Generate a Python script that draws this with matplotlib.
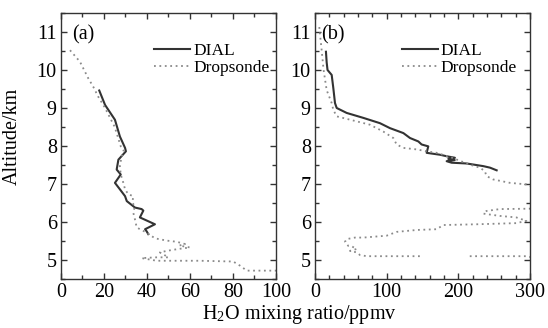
import numpy as np
import matplotlib.pyplot as plt
from matplotlib.ticker import MultipleLocator

plt.rcParams['font.family'] = ['Liberation Serif', 'DejaVu Serif']
plt.rcParams['mathtext.fontset'] = 'stix'

# (a) DIAL and dropsonde profiles
dial_a_x = [17.8, 20.5, 25.1, 27.4, 29.8, 30.2, 26.7, 25.9, 27.8, 25.1, 27.4, 29.8, 30.6,
            34.4, 37.5, 38.3, 36.7, 43.7, 39.1, 39.9, 40.6]
dial_a_y = [9.46, 9.08, 8.69, 8.25, 7.95, 7.86, 7.64, 7.38, 7.25, 7.03, 6.86, 6.68, 6.55,
            6.38, 6.34, 6.30, 6.12, 5.94, 5.81, 5.75, 5.68]
sonde_a_x = [4.2, 8.8, 12.7, 15.0, 17.3, 20.5, 25.0, 27.8, 29.3, 28.2, 27.4, 27.8, 29.0,
             29.8, 31.3, 33.6, 33.2, 34.4, 33.6, 34.4, 35.2, 36.7, 39.9, 43.7, 49.2,
             53.8, 57.7, 55.0, 60.0, 54.6, 49.2, 46.0, 47.5, 50.0, 44.5, 37.5, 44.5,
             64.5, 80.1, 83.3, 86.4, 95.7, 104.0]
sonde_a_y = [10.52, 10.22, 9.78, 9.56, 9.30, 9.00, 8.50, 7.99, 7.86, 7.73, 7.47, 7.25, 7.03,
             6.86, 6.73, 6.68, 6.50, 6.42, 6.25, 6.07, 5.86, 5.81, 5.72, 5.57, 5.51,
             5.48, 5.42, 5.38, 5.33, 5.29, 5.24, 5.20, 5.15, 5.07, 5.07, 5.05, 4.98,
             4.98, 4.96, 4.85, 4.72, 4.72, 4.72]

# (b) DIAL and dropsonde profiles
dial_b_x = [15.3, 16.3, 17.5, 23.3, 25.6, 27.9, 30.3, 44.2, 67.4, 90.7, 104.6, 123.3, 132.6,
            144.2, 148.8, 158.1, 155.8, 174.4, 183.7, 195.3, 186.0, 195.0, 183.7, 190.7,
            211.6, 234.9, 244.2, 253.5]
dial_b_y = [10.48, 10.20, 10.00, 9.87, 9.52, 9.13, 9.00, 8.87, 8.74, 8.60, 8.47, 8.34, 8.21,
            8.12, 8.04, 7.99, 7.82, 7.77, 7.73, 7.69, 7.66, 7.63, 7.60, 7.56,
            7.54, 7.47, 7.43, 7.36]
sonde_b_x = [6.0, 9.3, 12.0, 16.3, 23.3, 25.6, 30.3, 53.5, 76.7, 95.3, 109.3, 113.9, 123.3,
             141.9, 155.8, 169.8, 190.0, 216.0, 230.0, 237.0, 239.3, 248.6, 272.0, 295.0,
             330.0, 300.0, 258.0, 239.3, 234.9, 258.0, 281.0, 295.0, 281.0, 225.6, 179.0,
             169.8, 142.0, 114.0, 100.0, 67.4, 55.8, 44.2, 41.9, 46.5, 51.2, 58.2, 48.8,
             58.2, 62.8, 72.1, 148.8, np.nan, 216.0, 295.0, 310.0]
sonde_b_y = [11.13, 10.52, 10.0, 9.47, 9.13, 8.95, 8.78, 8.67, 8.56, 8.38, 8.21, 8.04, 7.95,
             7.91, 7.86, 7.82, 7.70, 7.51, 7.43, 7.34, 7.21, 7.12, 7.03, 6.99,
             6.70, 6.35, 6.34, 6.29, 6.22, 6.16, 6.12, 6.03, 5.97, 5.94, 5.92,
             5.81, 5.79, 5.74, 5.64, 5.59, 5.59, 5.55, 5.48, 5.37, 5.36, 5.29, 5.24,
             5.20, 5.13, 5.10, 5.10, np.nan, 5.10, 5.10, 5.04]

panels = [
    ('(a)', dial_a_x, dial_a_y, sonde_a_x, sonde_a_y, 100, 20, 10, 0.052, 0.985),
    ('(b)', dial_b_x, dial_b_y, sonde_b_x, sonde_b_y, 300, 100, 20, 0.030, 0.955),
]

fig = plt.figure(figsize=(5.48, 3.28), dpi=100)
lefts = [0.1113, 0.5748]

for left, (tag, dx, dy, sx, sy, xmax, major, minor, tag_x, leg_x) in zip(lefts, panels):
    ax = fig.add_axes([left, 0.1494, 0.3923, 0.811])
    ax.plot(dx, dy, color='#333333', lw=1.5, label='DIAL')
    ax.plot(sx, sy, color='#8a8a8a', lw=1.3, linestyle=(0, (1, 2)), label='Dropsonde')
    ax.set_xlim(0, xmax)
    ax.set_ylim(4.5, 11.5)
    ax.xaxis.set_major_locator(MultipleLocator(major))
    ax.xaxis.set_minor_locator(MultipleLocator(minor))
    ax.yaxis.set_major_locator(MultipleLocator(1))
    ax.yaxis.set_minor_locator(MultipleLocator(0.5))
    ax.tick_params(which='both', direction='in', top=True, right=True, labelsize=14.5,
                   width=1.0, color='#333333')
    ax.tick_params(which='major', length=4, pad=3)
    ax.tick_params(which='minor', length=3)
    for s in ax.spines.values():
        s.set_linewidth(1.0)
        s.set_color('#333333')
    ax.text(tag_x, 0.955, tag, transform=ax.transAxes, fontsize=14.5, va='top', ha='left')
    ax.legend(loc='upper right', bbox_to_anchor=(leg_x, 0.90), frameon=False, fontsize=12.5,
              handlelength=2.1, handletextpad=0.15, labelspacing=0.05, borderaxespad=0,
              borderpad=0.2)

fig.text(0.022, 0.585, 'Altitude/km', rotation=90, ha='center', va='center', fontsize=14.5)
fig.text(0.547, 0.028, r'H$_\mathregular{2}$O mixing ratio/ppmv', ha='center',
         va='baseline', fontsize=14.5)

fig.savefig('out.png', dpi=100)
